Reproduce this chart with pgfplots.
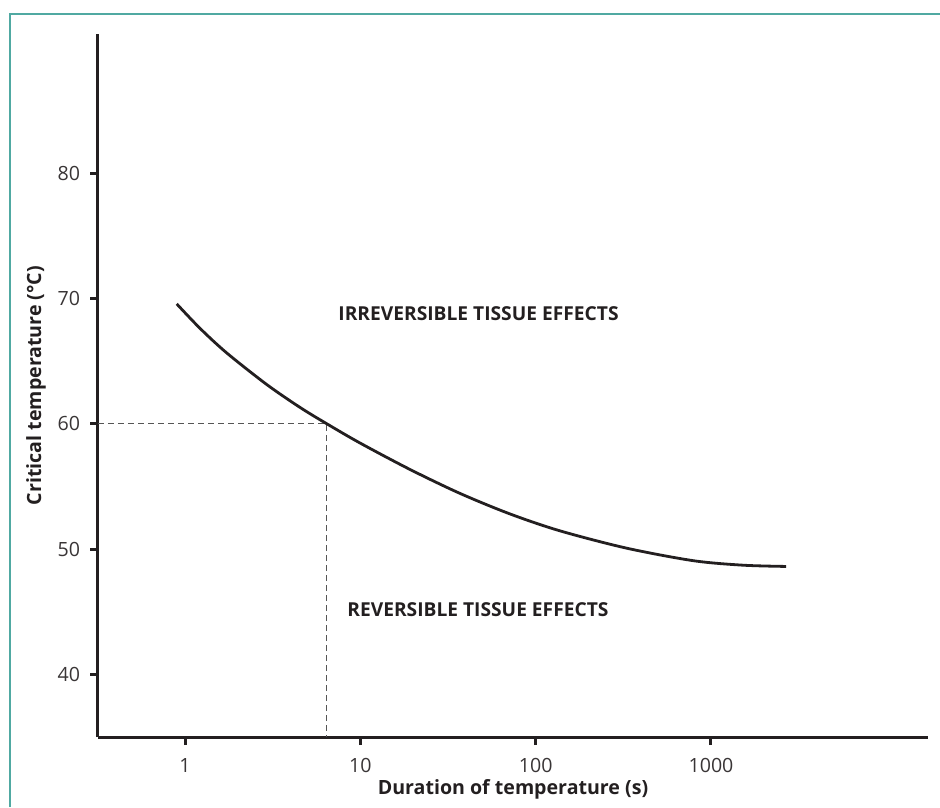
\documentclass[border=0pt]{standalone}
\usepackage{fontspec}
\setmainfont{Open Sans}
\usepackage{pgfplots}
\pgfplotsset{compat=1.18}
\definecolor{ink}{HTML}{231F20}
\definecolor{framecol}{HTML}{50A9A2}
\definecolor{dashcol}{HTML}{555555}
\begin{document}
\begin{tikzpicture}
\path[use as bounding box] (-49pt,-35pt) rectangle (421pt,368.5pt);
\draw[framecol, line width=1pt] (-44pt,-35pt) -- (-44pt,361.5pt) -- (421pt,361.5pt);
\begin{axis}[
  scale only axis,
  width=415pt, height=351.5pt,
  xmode=log,
  xmin=0.319, xmax=17290,
  ymin=35, ymax=91.1,
  axis lines=left,
  axis line style={-, ink, line width=1.5pt},
  xtick={1,10,100,1000},
  xticklabels={1,10,100,1000},
  ytick={40,50,60,70,80},
  xminorticks=false, yminorticks=false,
  tick align=outside,
  major tick length=4pt,
  tick style={ink, line width=1.5pt},
  tick label style={font=\fontsize{9.8}{12}\selectfont, text=ink!90},
  /pgf/number format/assume math mode=true,
  xticklabel style={yshift=-3pt},
  yticklabel style={xshift=-1.5pt},
  xlabel={\bfseries Duration of temperature (s)},
  ylabel={\bfseries Critical temperature (°C)},
  label style={font=\fontsize{9.8}{12}\selectfont, text=ink},
  xlabel style={at={(axis description cs:0.5,0)}, anchor=center, yshift=-26pt},
  ylabel style={at={(axis description cs:0,0.5)}, anchor=center, yshift=31pt},
  clip=false,
]
\addplot[dashcol, line width=0.65pt, dash pattern=on 3pt off 2pt] coordinates {(0.319,60) (6.43,60) (6.43,35)};
\addplot[ink, line width=1.4pt, smooth] coordinates {
(0.897,69.56) (1.218,67.61) (1.729,65.65) (2.924,63.13) (4.53,61.30)
(6.43,60.0) (9.96,58.46) (19.2,56.35) (37.0,54.44) (71.4,52.80)
(137.7,51.45) (330,50.07) (793,49.07) (1523,48.71) (2681,48.61)};
\node[anchor=west, inner sep=0pt, font=\fontsize{9.6}{12}\selectfont\bfseries, text=ink] at (axis cs:7.46,68.76) {IRREVERSIBLE TISSUE EFFECTS};
\node[anchor=west, inner sep=0pt, font=\fontsize{9.6}{12}\selectfont\bfseries, text=ink] at (axis cs:8.39,45.18) {REVERSIBLE TISSUE EFFECTS};
\end{axis}
\end{tikzpicture}
\end{document}
